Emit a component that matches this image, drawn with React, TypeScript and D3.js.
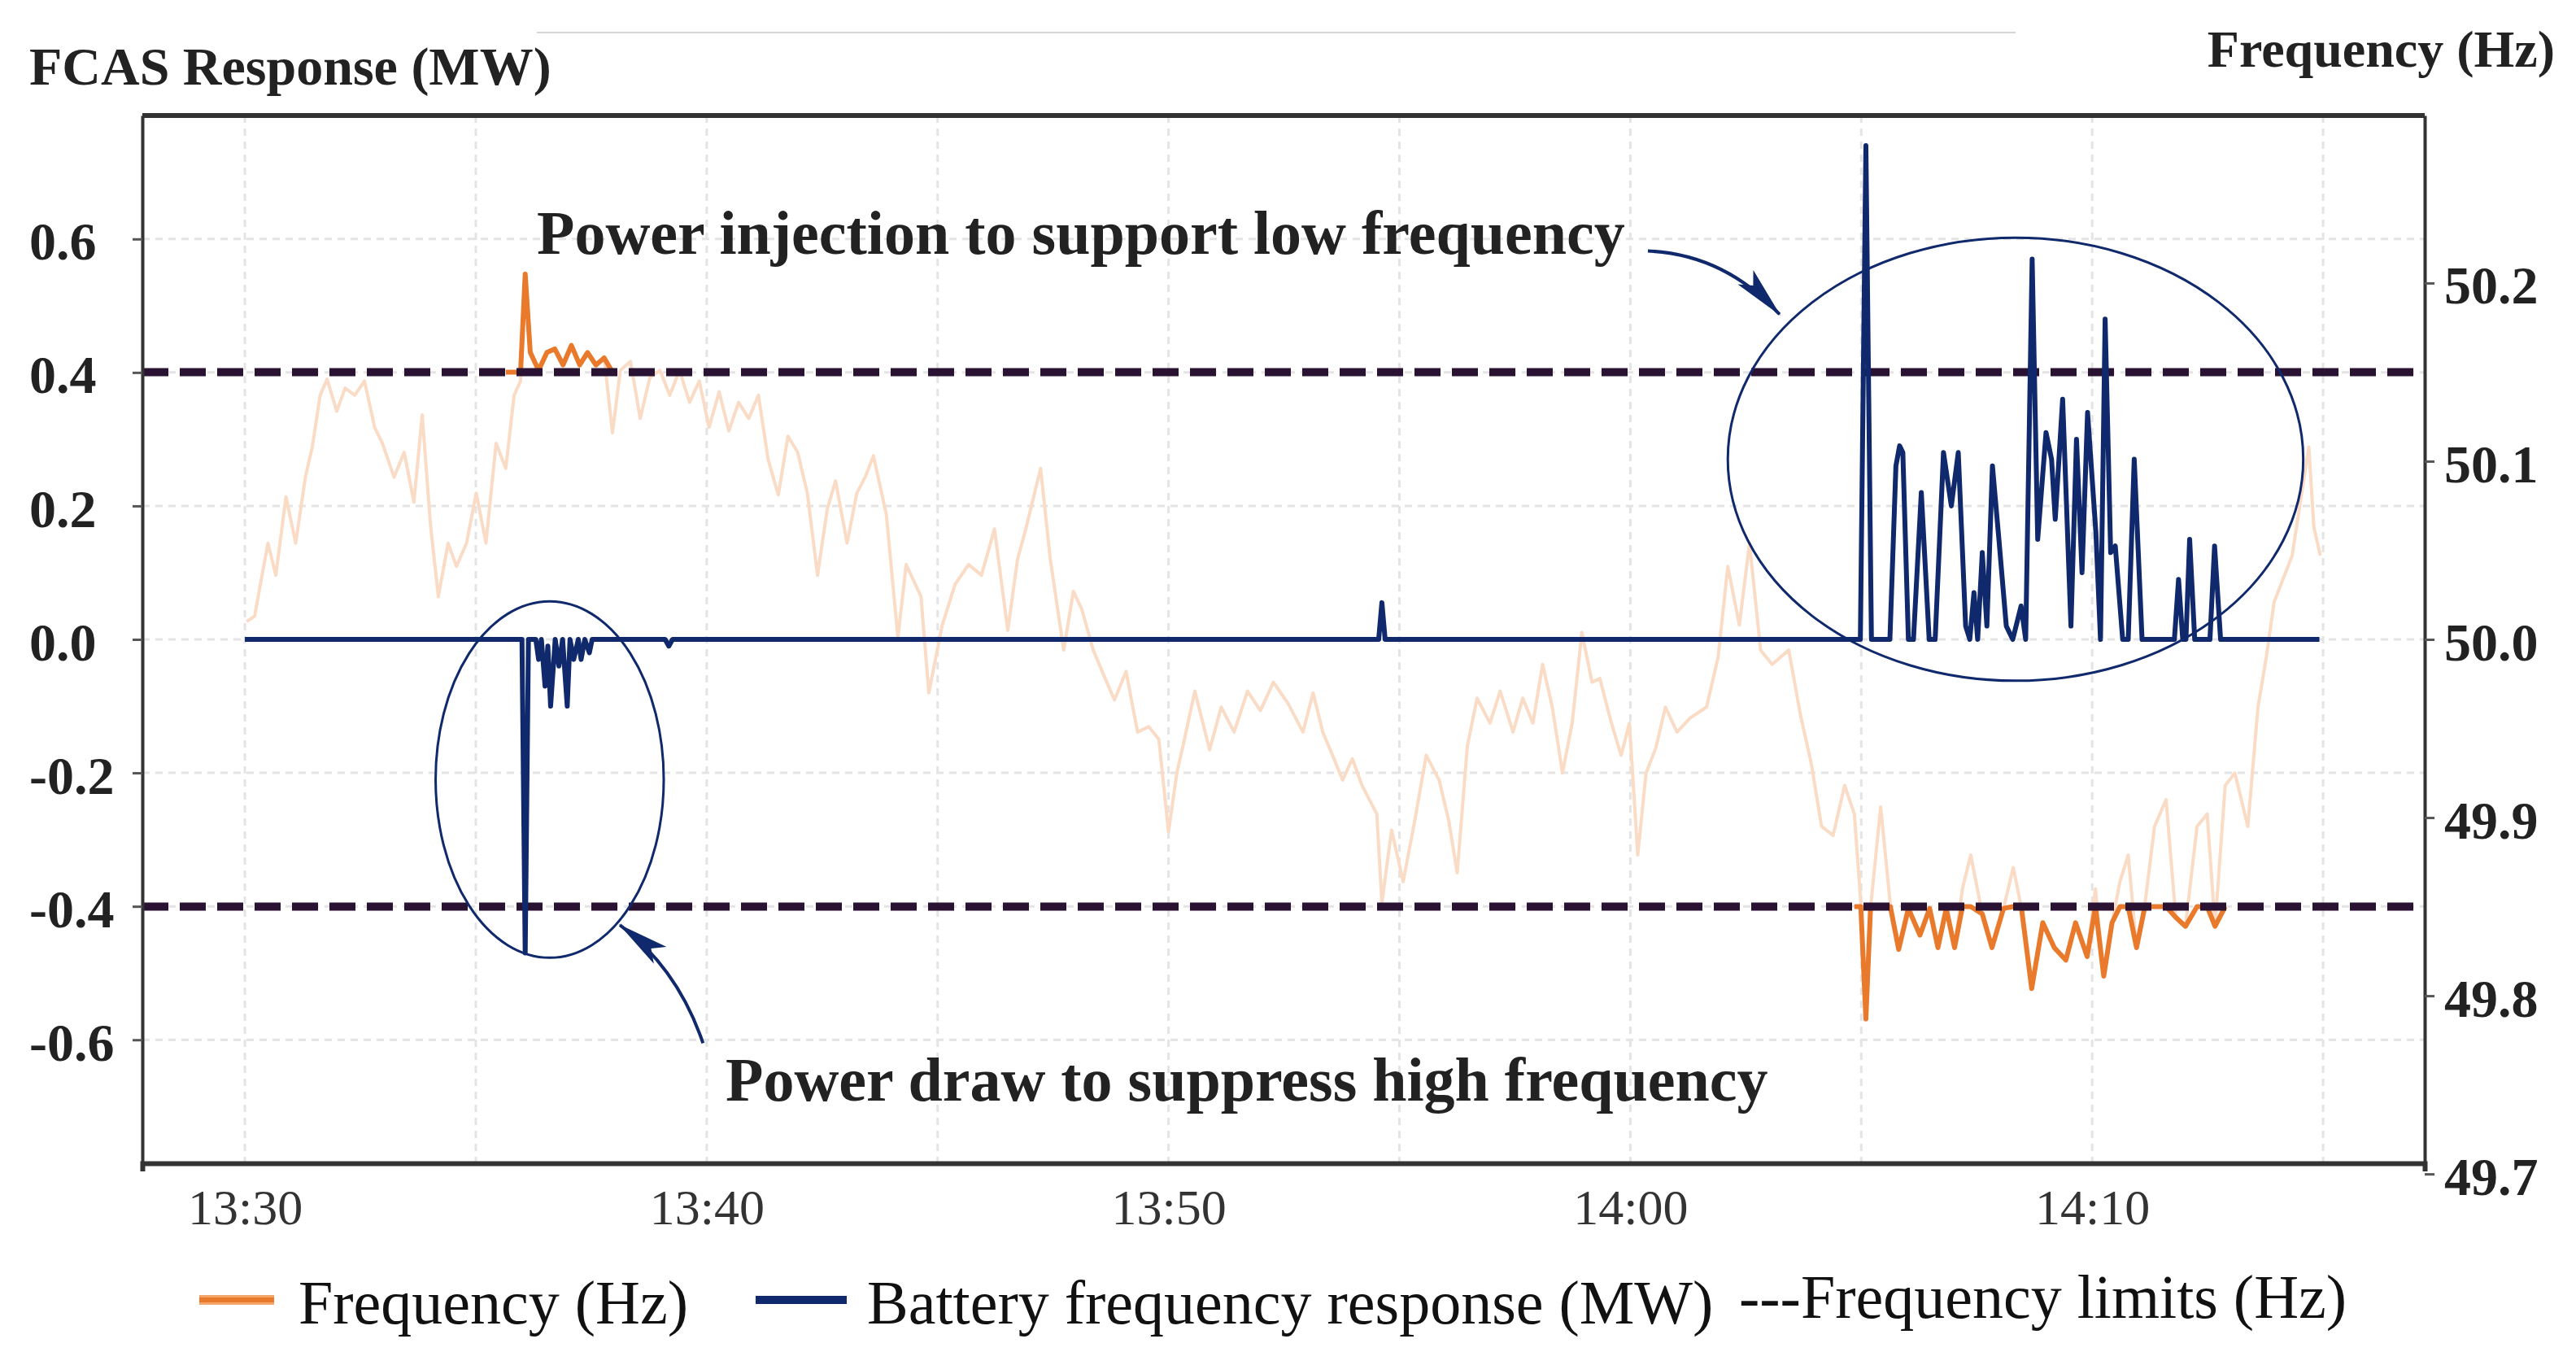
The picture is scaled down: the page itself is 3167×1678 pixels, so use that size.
import React, { useEffect, useRef } from 'react';
import * as d3 from 'd3';

// frequency trace, minutes after 13:30 and Hz
const freqMin = [
  0.04, 0.21, 0.5, 0.67, 0.89, 1.1, 1.31, 1.46, 1.63, 1.78,
  1.99, 2.17, 2.38, 2.59, 2.81, 2.98, 3.23, 3.45, 3.66, 3.84,
  4.02, 4.19, 4.4, 4.58, 4.8, 5.01, 5.22, 5.44, 5.65, 5.83,
  5.97, 6.07, 6.18, 6.36, 6.54, 6.71, 6.89, 7.07, 7.25, 7.42,
  7.6, 7.78, 7.96, 8.13, 8.35, 8.56, 8.77, 8.99, 9.2, 9.41,
  9.63, 9.84, 10.05, 10.27, 10.48, 10.69, 10.91, 11.12, 11.33, 11.55,
  11.76, 11.97, 12.18, 12.4, 12.61, 12.79, 13.04, 13.25, 13.43, 13.61,
  13.89, 14.14, 14.32, 14.64, 14.81, 15.1, 15.38, 15.67, 15.95, 16.23,
  16.52, 16.73, 16.91, 17.23, 17.44, 17.73, 17.94, 18.12, 18.37, 18.58,
  18.83, 19.08, 19.33, 19.57, 19.79, 20.0, 20.18, 20.32, 20.57, 20.89,
  21.14, 21.42, 21.71, 21.99, 22.27, 22.59, 22.91, 23.13, 23.34, 23.55,
  23.77, 23.98, 24.19, 24.51, 24.62, 24.83, 25.08, 25.33, 25.58, 25.86,
  26.07, 26.25, 26.47, 26.68, 26.96, 27.18, 27.46, 27.67, 27.89, 28.1,
  28.31, 28.53, 28.74, 28.95, 29.17, 29.34, 29.59, 29.8, 29.98, 30.16,
  30.34, 30.55, 30.76, 31.01, 31.3, 31.65, 31.9, 32.11, 32.36, 32.58,
  32.82, 33.07, 33.43, 33.68, 33.92, 34.14, 34.39, 34.64, 34.85, 34.99,
  35.1, 35.2, 35.42, 35.63, 35.81, 36.02, 36.27, 36.48, 36.66, 36.84,
  37.02, 37.19, 37.37, 37.62, 37.83, 38.08, 38.29, 38.47, 38.69, 38.93,
  39.18, 39.43, 39.64, 39.89, 40.07, 40.25, 40.43, 40.6, 40.78, 40.96,
  41.14, 41.35, 41.6, 41.81, 42.02, 42.27, 42.49, 42.66, 42.88, 43.09,
  43.37, 43.59, 43.77, 43.94, 44.33, 44.69, 44.8, 44.94,
];
const freqHz = [
  50.01, 50.013, 50.054, 50.036, 50.08, 50.054, 50.091, 50.108, 50.137, 50.146,
  50.128, 50.141, 50.137, 50.145, 50.119, 50.11, 50.091, 50.105, 50.077, 50.126,
  50.064, 50.024, 50.054, 50.041, 50.054, 50.082, 50.054, 50.11, 50.096, 50.137,
  50.145, 50.205, 50.161, 50.151, 50.161, 50.163, 50.154, 50.165, 50.154, 50.161,
  50.154, 50.158, 50.116, 50.151, 50.156, 50.124, 50.147, 50.151, 50.137, 50.151,
  50.133, 50.145, 50.119, 50.139, 50.117, 50.133, 50.124, 50.137, 50.101, 50.081,
  50.114, 50.105, 50.082, 50.036, 50.073, 50.089, 50.054, 50.082, 50.091, 50.103,
  50.07, 50.001, 50.042, 50.024, 49.97, 50.008, 50.031, 50.042, 50.036, 50.062,
  50.005, 50.045, 50.062, 50.096, 50.045, 49.994, 50.027, 50.017, 49.994, 49.981,
  49.966, 49.982, 49.948, 49.951, 49.944, 49.892, 49.925, 49.941, 49.971, 49.938,
  49.962, 49.948, 49.971, 49.96, 49.976, 49.964, 49.948, 49.97, 49.948, 49.935,
  49.921, 49.933, 49.918, 49.902, 49.852, 49.893, 49.864, 49.898, 49.935, 49.921,
  49.898, 49.869, 49.94, 49.967, 49.953, 49.971, 49.948, 49.967, 49.953, 49.986,
  49.962, 49.925, 49.953, 50.004, 49.976, 49.978, 49.953, 49.935, 49.953, 49.879,
  49.925, 49.939, 49.962, 49.948, 49.956, 49.962, 49.99, 50.041, 50.008, 50.054,
  49.994, 49.986, 49.994, 49.958, 49.93, 49.895, 49.89, 49.918, 49.902, 49.852,
  49.787, 49.849, 49.906, 49.851, 49.826, 49.849, 49.834, 49.849, 49.827, 49.849,
  49.827, 49.86, 49.879, 49.846, 49.827, 49.849, 49.872, 49.849, 49.804, 49.841,
  49.827, 49.82, 49.841, 49.822, 49.86, 49.811, 49.841, 49.864, 49.879, 49.827,
  49.851, 49.895, 49.91, 49.844, 49.839, 49.895, 49.902, 49.839, 49.918, 49.925,
  49.895, 49.962, 49.99, 50.021, 50.047, 50.108, 50.063, 50.047,
];

// battery response, minutes after 13:30 and MW
const batteryMin = [
  0, 6.0, 6.07, 6.14, 6.3, 6.36, 6.42, 6.5, 6.56, 6.62, 6.72, 6.8, 6.88, 6.98, 7.04, 7.12,
  7.22, 7.28, 7.36, 7.46, 7.52, 7.6, 9.1, 9.18, 9.26,
  24.55, 24.62, 24.69,
  34.98, 35.1, 35.22, 35.62, 35.75, 35.83, 35.9, 36.02, 36.13, 36.3, 36.47, 36.6, 36.78,
  36.95, 37.1, 37.26, 37.35, 37.44, 37.52, 37.62, 37.72, 37.84, 37.98, 38.14, 38.28, 38.46,
  38.56, 38.7, 38.82, 39.0, 39.12, 39.2, 39.36, 39.54, 39.66, 39.78, 39.9, 40.08, 40.18,
  40.28, 40.4, 40.5, 40.66, 40.78, 40.91, 41.08, 41.78, 41.87, 41.96, 42.03, 42.11, 42.22,
  42.55, 42.65, 42.78, 44.92,
];
const batteryMW = [
  0, 0, -0.47, 0, 0, -0.03, 0, -0.07, -0.01, -0.1, 0, -0.04, 0, -0.1, 0, -0.03,
  0, -0.03, 0, -0.02, 0, 0, 0, -0.01, 0,
  0, 0.055, 0,
  0, 0.74, 0, 0, 0.26, 0.29, 0.28, 0, 0, 0.22, 0, 0, 0.28,
  0.2, 0.28, 0.02, 0, 0.07, 0, 0.13, 0.02, 0.26, 0.15, 0.02, 0, 0.05,
  0, 0.57, 0.15, 0.31, 0.27, 0.18, 0.36, 0.02, 0.3, 0.1, 0.34, 0.16, 0,
  0.48, 0.13, 0.14, 0, 0, 0.27, 0, 0, 0.09, 0, 0, 0.15, 0,
  0, 0.14, 0, 0,
];

const limitHz = [49.85, 50.15];
const highWindow = [5.6, 8.1];
const lowWindow = [34.8, 42.9];
const leftTicks = [-0.6, -0.4, -0.2, 0, 0.2, 0.4, 0.6];
const rightTicks = [49.7, 49.8, 49.9, 50.0, 50.1, 50.2];
const timeLabels = ['13:30', '13:40', '13:50', '14:00', '14:10'];
const gridTimes = ['13:30', '13:35', '13:40', '13:45', '13:50', '13:55', '14:00', '14:05', '14:10', '14:15'];
const legendLabels = ['Frequency (Hz)', 'Battery frequency response (MW)', '---Frequency limits (Hz)'];

export default function App() {
  const ref = useRef<SVGSVGElement>(null);

  useEffect(() => {
    if (!ref.current) return;
    const svg = d3.select(ref.current);
    svg.selectAll('*').remove();

    const serif = "'Liberation Serif', 'Times New Roman', serif";
    const left = 175, right = 2981, top = 142, bottom = 1430;
    const navy = '#10296c';
    const orange = '#e9792b';
    const base = new Date(2020, 0, 1, 13, 30).getTime();
    const at = (m: number) => new Date(base + m * 60000);
    const hm = (s: string) => {
      const [h, mm] = s.split(':').map(Number);
      return at((h - 13) * 60 + mm - 30);
    };

    const x = d3.scaleTime().domain([at(-2.22), at(47.2)]).range([left, right]);
    const yL = d3.scaleLinear().domain([-0.785, 0.785]).range([bottom, top]);
    const yR = d3.scaleLinear().domain([49.706, 50.294]).range([bottom, top]);

    svg.append('rect').attr('width', 3167).attr('height', 1678).attr('fill', '#fff');

    // stray rule above the plot
    svg.append('line').attr('x1', 660).attr('x2', 2478).attr('y1', 40).attr('y2', 40)
      .attr('stroke', '#d6d6d6').attr('stroke-width', 2);

    // grid
    const grid = svg.append('g').attr('stroke', '#e4e4e4').attr('stroke-width', 3).attr('stroke-dasharray', '9 7');
    grid.selectAll('line.v').data(gridTimes).join('line').attr('class', 'v')
      .attr('x1', d => x(hm(d))).attr('x2', d => x(hm(d))).attr('y1', top).attr('y2', bottom);
    grid.selectAll('line.h').data(leftTicks).join('line').attr('class', 'h')
      .attr('x1', left).attr('x2', right).attr('y1', d => yL(d)).attr('y2', d => yL(d));

    // frequency, faint
    const idx = d3.range(freqMin.length);
    const fLine = d3.line<number>().x(i => x(at(freqMin[i]))).y(i => yR(freqHz[i]));
    svg.append('path').attr('d', fLine(idx)).attr('fill', 'none')
      .attr('stroke', '#fadcc6').attr('stroke-width', 4).attr('stroke-linejoin', 'round');

    // frequency outside limits, highlighted
    const hi = idx.filter(i => freqMin[i] >= highWindow[0] && freqMin[i] <= highWindow[1]);
    const lo = idx.filter(i => freqMin[i] >= lowWindow[0] && freqMin[i] <= lowWindow[1]);
    const hiLine = d3.line<number>().x(i => x(at(freqMin[i]))).y(i => yR(Math.max(freqHz[i], limitHz[1])));
    const loLine = d3.line<number>().x(i => x(at(freqMin[i]))).y(i => yR(Math.min(freqHz[i], limitHz[0])));
    [hiLine(hi), loLine(lo)].forEach(d => {
      svg.append('path').attr('d', d).attr('fill', 'none').attr('stroke', orange)
        .attr('stroke-width', 6).attr('stroke-linejoin', 'round');
    });

    // limits
    svg.selectAll('line.lim').data(limitHz).join('line').attr('class', 'lim')
      .attr('x1', left).attr('x2', right).attr('y1', d => yR(d)).attr('y2', d => yR(d))
      .attr('stroke', '#2a1232').attr('stroke-width', 10).attr('stroke-dasharray', '32 14');

    // battery response
    const bLine = d3.line<number>().x(i => x(at(batteryMin[i]))).y(i => yL(batteryMW[i]));
    svg.append('path').attr('d', bLine(d3.range(batteryMin.length))).attr('fill', 'none')
      .attr('stroke', navy).attr('stroke-width', 6).attr('stroke-linejoin', 'round');

    // axes frame
    svg.append('line').attr('x1', left).attr('x2', right).attr('y1', top).attr('y2', top)
      .attr('stroke', '#333').attr('stroke-width', 6);

    const xAxis = svg.append('g').attr('transform', `translate(0,${bottom})`)
      .call(d3.axisBottom(x).tickValues(timeLabels.map(hm)).tickFormat(d3.timeFormat('%H:%M') as any)
        .tickSize(0).tickSizeOuter(10).tickPadding(31));
    xAxis.select('.domain').attr('stroke', '#333').attr('stroke-width', 6);
    xAxis.selectAll('text').attr('font-family', serif).attr('font-size', 62).attr('fill', '#333');

    const lAxis = svg.append('g').attr('transform', `translate(${left},0)`)
      .call(d3.axisLeft(yL).tickValues(leftTicks).tickFormat(d => (+d).toFixed(1)).tickSize(12).tickSizeOuter(0));
    lAxis.select('.domain').attr('stroke', '#333').attr('stroke-width', 4);
    lAxis.selectAll('.tick line').attr('stroke', '#555').attr('stroke-width', 3);
    lAxis.selectAll('text').attr('font-family', serif).attr('font-size', 66).attr('font-weight', 'bold')
      .attr('fill', '#222').attr('text-anchor', 'start').attr('x', 36 - left).attr('dy', '0.38em');

    const rAxis = svg.append('g').attr('transform', `translate(${right},0)`)
      .call(d3.axisRight(yR).tickValues(rightTicks).tickFormat(d => (+d).toFixed(1)).tickSize(12).tickPadding(12).tickSizeOuter(0));
    rAxis.select('.domain').attr('stroke', '#333').attr('stroke-width', 4);
    rAxis.selectAll('.tick line').attr('stroke', '#555').attr('stroke-width', 3);
    rAxis.selectAll('text').attr('font-family', serif).attr('font-size', 66).attr('font-weight', 'bold')
      .attr('fill', '#222').attr('dy', '0.38em');

    // axis titles
    svg.append('text').attr('x', 36).attr('y', 104).text('FCAS Response (MW)')
      .attr('font-family', serif).attr('font-size', 66).attr('font-weight', 'bold').attr('fill', '#222');
    svg.append('text').attr('x', 3141).attr('y', 82).attr('text-anchor', 'end').text('Frequency (Hz)')
      .attr('font-family', serif).attr('font-size', 64).attr('font-weight', 'bold').attr('fill', '#222');

    // annotations
    const defs = svg.append('defs');
    defs.append('marker').attr('id', 'head').attr('viewBox', '0 0 64 26').attr('refX', 62).attr('refY', 13)
      .attr('markerWidth', 64).attr('markerHeight', 26).attr('markerUnits', 'userSpaceOnUse').attr('orient', 'auto')
      .append('path').attr('d', 'M0,0 L64,13 L0,26 L14,13 Z').attr('fill', navy);

    const ellipses = [
      { t: 6.6, v: -0.21, rt: 2.47, rv: 0.267 },
      { t: 38.34, v: 0.27, rt: 6.23, rv: 0.332 },
    ];
    svg.selectAll('ellipse').data(ellipses).join('ellipse')
      .attr('cx', d => x(at(d.t))).attr('cy', d => yL(d.v))
      .attr('rx', d => x(at(d.t + d.rt)) - x(at(d.t))).attr('ry', d => yL(0) - yL(d.rv))
      .attr('fill', 'none').attr('stroke', navy).attr('stroke-width', 3);

    const arrows = [
      [[30.38, 0.582], [32.04, 0.577], [33.23, 0.487]],
      [[9.92, -0.605], [9.37, -0.493], [8.12, -0.428]],
    ];
    arrows.forEach(([a, c, b]) => {
      const p = d3.path();
      p.moveTo(x(at(a[0])), yL(a[1]));
      p.quadraticCurveTo(x(at(c[0])), yL(c[1]), x(at(b[0])), yL(b[1]));
      svg.append('path').attr('d', p.toString()).attr('fill', 'none').attr('stroke', navy)
        .attr('stroke-width', 4).attr('marker-end', 'url(#head)');
    });

    svg.append('text').attr('x', 660).attr('y', 312).text('Power injection to support low frequency')
      .attr('font-family', serif).attr('font-size', 76).attr('font-weight', 'bold').attr('fill', '#222');
    svg.append('text').attr('x', 892).attr('y', 1353).text('Power draw to suppress high frequency')
      .attr('font-family', serif).attr('font-size', 76).attr('font-weight', 'bold').attr('fill', '#222');

    // legend
    const lg = svg.append('g').attr('font-family', serif).attr('font-size', 76).attr('fill', '#111');
    lg.append('line').attr('x1', 245).attr('x2', 337).attr('y1', 1598).attr('y2', 1598)
      .attr('stroke', '#f3a56a').attr('stroke-width', 12);
    lg.append('line').attr('x1', 245).attr('x2', 337).attr('y1', 1598).attr('y2', 1598)
      .attr('stroke', orange).attr('stroke-width', 6);
    lg.append('text').attr('x', 367).attr('y', 1627).text(legendLabels[0]);
    lg.append('line').attr('x1', 929).attr('x2', 1041).attr('y1', 1598).attr('y2', 1598)
      .attr('stroke', navy).attr('stroke-width', 10);
    lg.append('text').attr('x', 1066).attr('y', 1627).text(legendLabels[1]);
    lg.append('text').attr('x', 2138).attr('y', 1620).text(legendLabels[2]);
  }, []);

  return (
    <svg ref={ref} width={3167} height={1678}
      style={{ position: 'absolute', left: 0, top: 0, display: 'block' }} />
  );
}
